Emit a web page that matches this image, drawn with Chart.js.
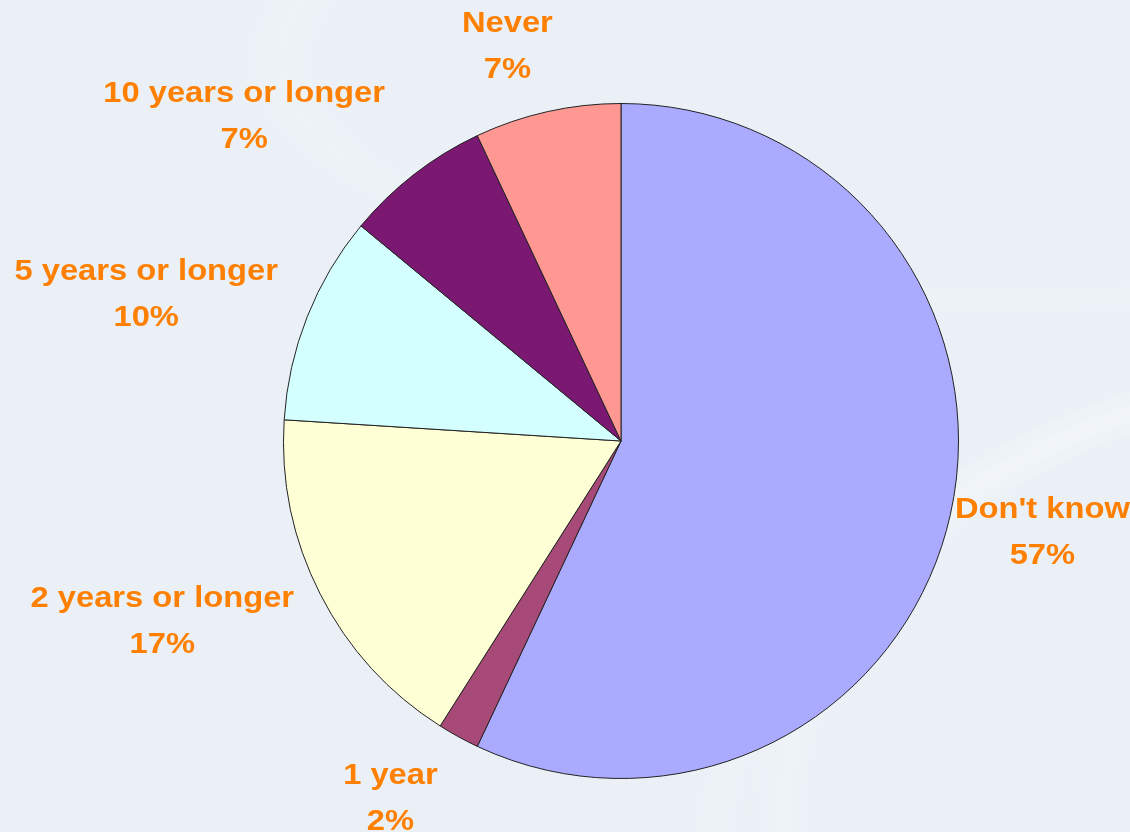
<!DOCTYPE html>
<html>
<head>
<meta charset="utf-8">
<script src="https://cdn.jsdelivr.net/npm/chart.js@4/dist/chart.umd.min.js"></script>
<style>
  html, body { margin: 0; padding: 0; }
  body {
    width: 1130px; height: 832px; overflow: hidden;
    background:
      radial-gradient(ellipse 700px 520px at 1380px 820px, transparent 80%, rgba(255,255,255,0.22) 85%, transparent 91%),
      radial-gradient(ellipse 820px 620px at 1420px 900px, transparent 82%, rgba(255,255,255,0.18) 87%, transparent 92%),
      radial-gradient(ellipse 900px 300px at 1000px 60px, transparent 72%, rgba(255,255,255,0.18) 80%, transparent 88%),
      #eaf0f6;
  }
  #wrap { position: absolute; left: 0; top: 0; width: 1130px; height: 832px; }
</style>
</head>
<body>
<div id="wrap"><canvas id="chart" width="1130" height="832"></canvas></div>
<script>
// data, clockwise from 12 o'clock
var categories = ["Don't know", "1 year", "2 years or longer", "5 years or longer", "10 years or longer", "Never"];
var shares = [57, 2, 17, 10, 7, 7];
var sliceColors = ["#aaaaff", "#a84a78", "#ffffd6", "#d4ffff", "#7a1872", "#ff9893"];

// label nudges from the outer middle of each slice (layout only)
var labelNudge = [[92, 18], [-68, 62], [-158, 28], [-161, -22], [-170, -58], [-40, -65]];

var sliceLabels = {
  id: "sliceLabels",
  afterDatasetsDraw: function (chart) {
    var ctx = chart.ctx;
    var arcs = chart.getDatasetMeta(0).data;
    ctx.save();
    ctx.fillStyle = "#ff8000";
    ctx.font = "bold 30px 'Liberation Sans', Arial, sans-serif";
    ctx.textAlign = "center";
    ctx.textBaseline = "middle";
    arcs.forEach(function (arc, i) {
      var p = arc.getProps(["x", "y", "startAngle", "endAngle", "outerRadius"], true);
      var mid = (p.startAngle + p.endAngle) / 2;
      var x = p.x + Math.cos(mid) * p.outerRadius + labelNudge[i][0];
      var y = p.y + Math.sin(mid) * p.outerRadius + labelNudge[i][1];
      var lines = [categories[i], shares[i] + "%"];
      lines.forEach(function (t, k) {
        ctx.save();
        ctx.translate(x, y + (k - 0.5) * 46);
        ctx.scale(1.09, 1);
        ctx.fillText(t, 0, 0);
        ctx.restore();
      });
    });
    ctx.restore();
  }
};

new Chart(document.getElementById("chart"), {
  type: "pie",
  data: {
    labels: categories,
    datasets: [{
      data: shares,
      backgroundColor: sliceColors,
      borderColor: "#222222",
      borderWidth: 1
    }]
  },
  options: {
    responsive: false,
    animation: false,
    layout: { padding: { top: 103, bottom: 53, left: 283, right: 171 } },
    plugins: {
      legend: { display: false },
      tooltip: { enabled: false }
    }
  },
  plugins: [sliceLabels]
});
</script>
</body>
</html>
